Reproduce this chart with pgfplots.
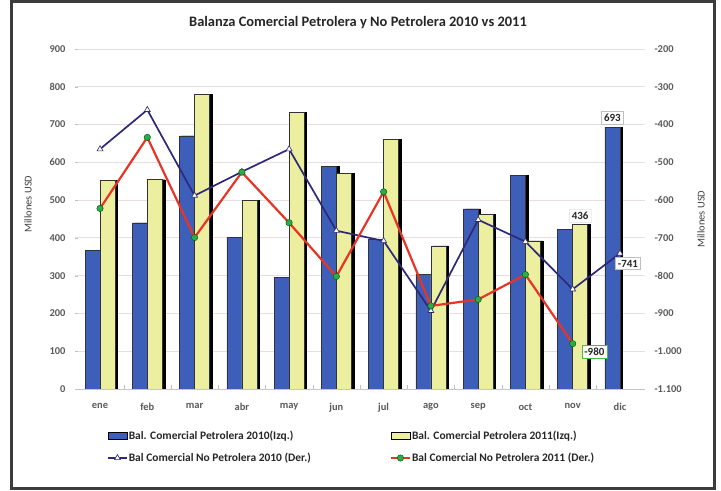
\documentclass[border=0pt]{standalone}
\usepackage{fontspec}
\setmainfont{Carlito}
\usepackage{pgfplots}
\usepackage{pgfplotstable}
\pgfplotsset{compat=1.18}

\definecolor{barblue}{RGB}{62,95,185}
\definecolor{baryellow}{RGB}{236,238,160}
\definecolor{navyline}{RGB}{45,40,120}
\definecolor{redline}{RGB}{232,52,38}
\definecolor{greenmark}{RGB}{45,170,80}
\definecolor{gridc}{RGB}{232,222,222}
\definecolor{framec}{RGB}{60,60,60}

% mes, petrolera 2010/2011 (izq.), no petrolera 2010/2011 (der.)
\pgfplotstableread{
x  p10  p11  n10   n11
0  366  553  -465  -622
1  440  554  -361  -434
2  670  780  -588  -699
3  401  500  -525  -526
4  295  732  -465  -660
5  590  571  -681  -802
6  396  661  -708  -578
7  304  379  -893  -880
8  477  463  -652  -863
9  565  392  -710  -797
10 423  436  -836  -980
11 693  nan  -741  nan
}\datos

\tikzset{
  lab/.style={fill=white, inner sep=2.5bp, font=\bfseries\fontsize{11}{13}\selectfont, text=black!85},
}
\pgfplotsset{
  base/.style={
    at={(75bp,102bp)}, anchor=south west,
    width=570bp, height=340bp, scale only axis,
    xmin=-0.53, xmax=11.53,
    /pgf/number format/assume math mode=true,
    tick label style={font=\bfseries\fontsize{10.5}{13}\selectfont, text=black!65},
    major tick length=3bp,
  },
  linelegend/.style={legend image code/.code={%
    \draw[mark repeat=2, mark phase=2, ##1] plot coordinates {(0bp,0bp) (9.5bp,0bp) (19bp,0bp)};}},
  boxlegend/.style={legend image code/.code={%
    \draw[fill=#1, draw=black, line width=0.9pt] (0bp,-3.5bp) rectangle (19bp,3.5bp);}},
}

\begin{document}
\begin{tikzpicture}
\useasboundingbox (0,0) rectangle (721bp,491bp);
\draw[framec, line width=3bp] (11.5bp,2bp) rectangle (714bp,489.5bp);

\begin{axis}[
  base,
  ymin=0, ymax=900, ytick={0,100,...,900},
  xtick={0,...,11},
  xticklabels={ene,feb,mar,abr,may,jun,jul,ago,sep,oct,nov,dic},
  minor x tick num=1,
  axis x line*=bottom, axis y line*=left,
  y axis line style={draw=none},
  x axis line style={gray!45},
  major x tick style={draw=none},
  minor x tick style={gray!50},
  minor tick length=4bp,
  y tick style={gray!50},
  ymajorgrids, grid style={gridc, line width=0.8pt},
  yticklabel style={xshift=-6bp},
  xticklabel style={yshift=-11bp},
]
% sombras
\addplot[ybar, bar width=15bp, bar shift=-5bp, fill=black, draw=black] table[x=x, y=p10] {\datos};
\addplot[ybar, bar width=15bp, bar shift=10bp, fill=black, draw=black] table[x=x, y=p11] {\datos};
% barras
\addplot[ybar, bar width=15bp, bar shift=-7.5bp, fill=barblue, draw=black!80, line width=0.5pt] table[x=x, y=p10] {\datos};
\addplot[ybar, bar width=15bp, bar shift=7.5bp, fill=baryellow, draw=black!80, line width=0.5pt] table[x=x, y=p11] {\datos};

\node[lab, anchor=south, xshift=-7.5bp, yshift=3bp, draw=gray!50] at (axis cs:11,693) {693};
\node[lab, anchor=south, xshift=7.5bp, yshift=2bp, draw=gray!15] at (axis cs:10,436) {436};
\end{axis}

\begin{axis}[
  base,
  ymin=-1100, ymax=-200, ytick={-1100,-1000,...,-200},
  axis y line*=right, axis x line=none,
  y axis line style={draw=none},
  y tick style={draw=none},
  yticklabel style={/pgf/number format/1000 sep={.}, xshift=6bp},
  legend columns=2,
  legend cell align=left,
  legend style={at={(axis description cs:0.056,-0.12)}, anchor=north west,
    draw=none, fill=none, inner sep=0pt,
    font=\bfseries\fontsize{11.5}{13}\selectfont, text=black!85,
    row sep=10bp,
    nodes={inner sep=1bp},
    /tikz/every even column/.append style={column sep=78bp}},
]
\addlegendimage{boxlegend=barblue}
\addlegendentry{Bal. Comercial Petrolera 2010(Izq.)}
\addlegendimage{boxlegend=baryellow}
\addlegendentry{Bal. Comercial Petrolera 2011(Izq.)}

\addplot[navyline, line width=1.7pt, mark=triangle*, mark size=3.4bp,
  mark options={fill=white, draw=navyline, line width=0.6pt}, linelegend]
  table[x=x, y=n10] {\datos};
\addlegendentry{Bal Comercial No Petrolera 2010 (Der.)}
\addplot[redline, line width=2.2pt, mark=*, mark size=3.2bp,
  mark options={fill=greenmark, draw=green!40!black, line width=0.5pt}, linelegend]
  table[x=x, y=n11] {\datos};
\addlegendentry{Bal Comercial No Petrolera 2011 (Der.)}

\node[lab, anchor=north, xshift=8bp, yshift=-4bp, draw=gray!50] at (axis cs:11,-741) {-741};
\node[lab, anchor=west, xshift=9bp, yshift=-8bp, draw=green!45!gray] at (axis cs:10,-980) {-980};
\end{axis}

\node[font=\bfseries\fontsize{14.5}{17}\selectfont, text=black!85] at (358bp,468bp)
  {Balanza Comercial Petrolera y No Petrolera 2010 vs 2011};
\node[rotate=90, font=\fontsize{10.5}{12}\selectfont, text=black!75] at (28bp,287bp) {Millones USD};
\node[rotate=90, font=\fontsize{10.5}{12}\selectfont, text=black!75] at (701bp,272bp) {Millones USD};
\end{tikzpicture}
\end{document}
